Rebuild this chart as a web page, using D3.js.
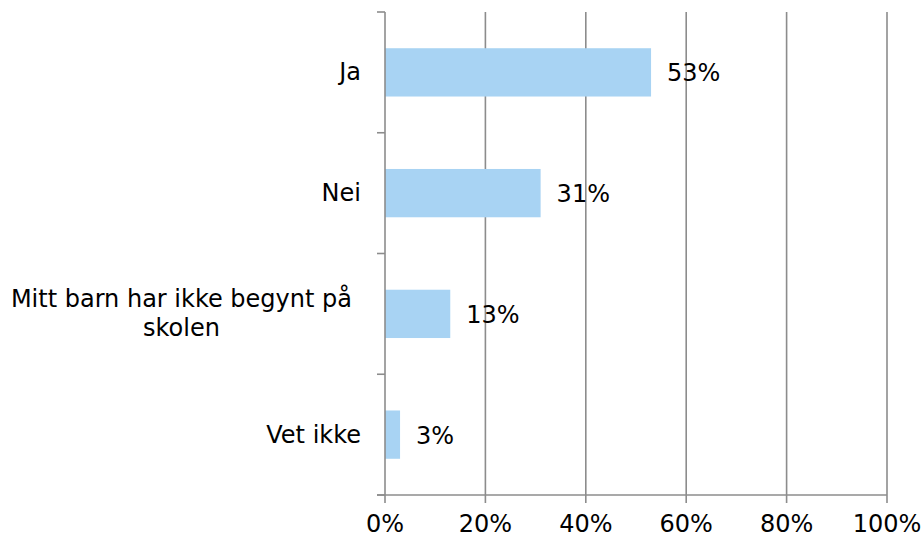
<!DOCTYPE html>
<html>
<head>
<meta charset="utf-8">
<script src="https://cdn.jsdelivr.net/npm/d3@7"></script>
<style>
  html, body { margin: 0; padding: 0; background: #fff; }
  svg text { font-family: "DejaVu Sans", Verdana, sans-serif; fill: #000; }
</style>
</head>
<body>
<svg id="chart" width="924" height="537"></svg>
<script>
const categories = ["Ja", "Nei", "Mitt barn har ikke begynt på|skolen", "Vet ikke"];
const values = [0.53, 0.31, 0.13, 0.03];
const valueLabels = ["53%", "31%", "13%", "3%"];
const xTicks = [0, 0.2, 0.4, 0.6, 0.8, 1.0];
const xTickLabels = ["0%", "20%", "40%", "60%", "80%", "100%"];

(function () {
const svg = d3.select("#chart");
const pLeft = 385, pRight = 887, pTop = 12, pBottom = 495;
const fontSize = 24;
const gridColor = "#8c8c8c";

const x = d3.scaleLinear().domain([0, 1]).range([pLeft, pRight]);
const y = d3.scaleBand().domain(categories).range([pTop, pBottom]).paddingInner(0.6).paddingOuter(0.3);

// gridlines
svg.append("g").selectAll("line").data(xTicks.slice(1)).join("line")
  .attr("x1", d => x(d)).attr("x2", d => x(d))
  .attr("y1", pTop).attr("y2", pBottom + 8)
  .attr("stroke", gridColor).attr("stroke-width", 1.6);

// bars
svg.append("g").selectAll("rect").data(categories).join("rect")
  .attr("x", x(0))
  .attr("y", d => y(d))
  .attr("width", (d, i) => x(values[i]) - x(0))
  .attr("height", y.bandwidth())
  .attr("fill", "#a8d3f3");

// y axis line and band ticks
svg.append("line").attr("x1", pLeft).attr("x2", pLeft).attr("y1", pTop).attr("y2", pBottom + 8)
  .attr("stroke", gridColor).attr("stroke-width", 1.6);
const step = y.step();
const bounds = d3.range(categories.length + 1).map(i => pTop + i * step);
svg.append("g").selectAll("line").data(bounds).join("line")
  .attr("x1", pLeft - 8).attr("x2", pLeft)
  .attr("y1", d => d).attr("y2", d => d)
  .attr("stroke", gridColor).attr("stroke-width", 1.6);

// x axis line
svg.append("line").attr("x1", pLeft - 8).attr("x2", pRight).attr("y1", pBottom).attr("y2", pBottom)
  .attr("stroke", gridColor).attr("stroke-width", 1.6);

// x tick labels
svg.append("g").selectAll("text").data(xTicks).join("text")
  .attr("x", d => x(d)).attr("y", 532)
  .attr("text-anchor", "middle")
  .attr("font-size", fontSize)
  .text((d, i) => xTickLabels[i]);

// category labels
const labelRight = 361;
const lineH = 29;
categories.forEach(c => {
  const lines = c.split("|");
  const cy = y(c) + y.bandwidth() / 2;
  const t = svg.append("text").attr("font-size", fontSize).attr("dominant-baseline", "central");
  if (lines.length === 1) {
    t.attr("x", labelRight).attr("y", cy).attr("text-anchor", "end").text(lines[0]);
  } else {
    const spans = lines.map(l => t.append("tspan").text(l));
    const maxW = d3.max(spans, s => s.node().getComputedTextLength());
    const cx = labelRight - 9 - maxW / 2;
    t.attr("text-anchor", "middle");
    spans.forEach((s, i) => s.attr("x", cx).attr("y", cy + (i - (lines.length - 1) / 2) * lineH));
  }
});

// value labels
svg.append("g").selectAll("text").data(categories).join("text")
  .attr("x", (d, i) => x(values[i]) + 16)
  .attr("y", d => y(d) + y.bandwidth() / 2 + 1)
  .attr("dominant-baseline", "central")
  .attr("font-size", fontSize)
  .text((d, i) => valueLabels[i]);
})();
</script>
</body>
</html>
